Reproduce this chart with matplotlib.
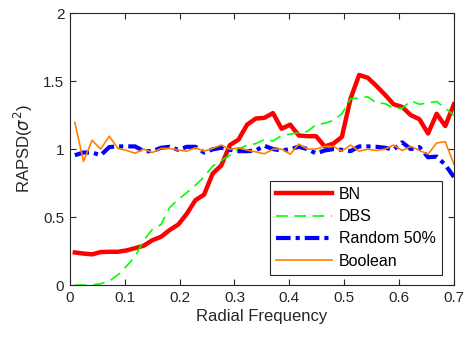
import numpy as np
import matplotlib
matplotlib.use("Agg")
import matplotlib.pyplot as plt

plt.rcParams['font.family'] = ['Liberation Sans', 'DejaVu Sans']
plt.rcParams['mathtext.fontset'] = 'dejavusans'

freq = np.linspace(0.009, 0.7, 45)

bn = [0.24, 0.232, 0.226, 0.243, 0.245, 0.245, 0.255, 0.272, 0.29, 0.33,
      0.355, 0.405, 0.445, 0.525, 0.625, 0.665, 0.82, 0.88, 1.03, 1.07,
      1.18, 1.225, 1.23, 1.265, 1.15, 1.18, 1.10, 1.095, 1.095, 1.02,
      1.04, 1.09, 1.37, 1.545, 1.525, 1.465, 1.40, 1.33, 1.31, 1.25,
      1.22, 1.115, 1.26, 1.17, 1.33]

dbs = [0.0, 0.0, 0.0, 0.01, 0.03, 0.075, 0.14, 0.21, 0.33, 0.41,
       0.445, 0.57, 0.63, 0.68, 0.735, 0.795, 0.875, 0.915, 0.955, 1.0,
       1.03, 1.04, 1.07, 1.06, 1.10, 1.11, 1.12, 1.13, 1.18, 1.19,
       1.21, 1.26, 1.37, 1.375, 1.385, 1.34, 1.335, 1.30, 1.30, 1.355,
       1.33, 1.34, 1.35, 1.30, 1.25]

rand50 = [0.955, 0.975, 0.975, 0.955, 1.015, 1.02, 1.02, 1.02, 0.985, 0.985,
          1.01, 1.017, 0.995, 1.017, 1.017, 0.975, 0.998, 1.01, 0.995, 0.985,
          0.985, 0.99, 1.025, 1.0, 0.99, 1.0, 1.017, 1.0, 0.968, 0.99,
          1.0, 0.995, 0.985, 1.02, 1.02, 1.017, 1.01, 0.996, 1.05, 1.0,
          1.015, 0.94, 0.945, 0.885, 0.795]

boolean = [1.196, 0.91, 1.065, 1.0, 1.095, 1.005, 0.99, 0.97, 1.0, 0.975,
           1.005, 1.005, 0.993, 0.985, 1.01, 0.985, 1.005, 1.03, 0.998, 1.01,
           0.993, 0.98, 0.965, 1.0, 1.0, 0.963, 1.037, 1.0, 1.0, 1.02,
           1.02, 0.985, 1.03, 0.985, 1.0, 0.99, 1.0, 1.03, 0.99, 1.02,
           0.99, 0.963, 1.045, 1.055, 0.89]

xticks = [0, 0.1, 0.2, 0.3, 0.4, 0.5, 0.6, 0.7]
xticklabels = ['0', '0.1', '0.2', '0.3', '0.4', '0.5', '0.6', '0.7']
yticks = [0, 0.5, 1, 1.5, 2]
yticklabels = ['0', '0.5', '1', '1.5', '2']

fig = plt.figure(figsize=(4.66, 3.37), dpi=100)
ax = fig.add_axes([0.150, 0.154, 0.824, 0.807])

ax.plot(freq, bn, color='#ff0000', lw=3.2, label='BN')
ax.plot(freq, dbs, color='#00ff00', lw=1.2, ls=(0, (7, 4)), label='DBS')
ax.plot(freq, rand50, color='#0000ff', lw=3.0, ls=(0, (3.5, 1.2, 1.0, 1.2)), label='Random 50%')
ax.plot(freq, boolean, color='#ff8000', lw=1.2, label='Boolean')

ax.set_xlim(0, 0.7)
ax.set_ylim(0, 2)
ax.set_xticks(xticks)
ax.set_xticklabels(xticklabels)
ax.set_yticks(yticks)
ax.set_yticklabels(yticklabels)

axcol = '#262626'
for s in ax.spines.values():
    s.set_color(axcol)
    s.set_linewidth(0.8)
ax.tick_params(direction='in', top=True, right=True, length=4, width=0.8,
               color=axcol, labelcolor=axcol, labelsize=11, pad=4)

ax.set_xlabel('Radial Frequency', fontsize=12, color=axcol, labelpad=3)
ax.set_ylabel(r'RAPSD($\sigma^2$)', fontsize=12, color=axcol, labelpad=6)

leg = ax.legend(loc='lower right', bbox_to_anchor=(0.969, 0.037), fontsize=11.5,
                frameon=True, fancybox=False, framealpha=1, edgecolor=axcol,
                handlelength=3.5, handletextpad=0.4, labelspacing=0.45,
                borderpad=0.4, borderaxespad=0)
leg.get_frame().set_linewidth(0.8)

fig.savefig('out.png', dpi=100)
